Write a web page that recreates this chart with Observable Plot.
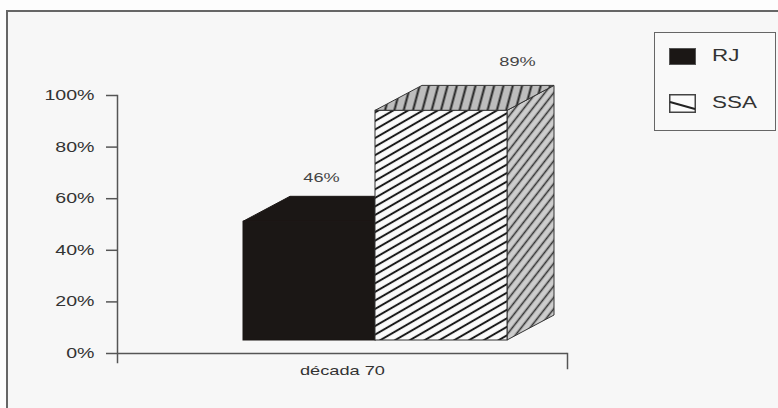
<!DOCTYPE html>
<html>
<head>
<meta charset="utf-8">
<script src="https://cdn.jsdelivr.net/npm/d3@7"></script>
<script src="https://cdn.jsdelivr.net/npm/@observablehq/plot@0.6"></script>
<style>
  html, body { margin: 0; padding: 0; background: #fdfdfd; overflow: hidden; }
  #wrap { position: relative; width: 778px; height: 408px; overflow: hidden; }
  #border { position: absolute; left: 6px; top: 10px; width: 800px; height: 420px;
            border: 2px solid #666; background: #f7f7f7; box-sizing: border-box; }
  #chart { position: absolute; left: 0; top: 0; }
  #legend { position: absolute; left: 654px; top: 32px; width: 122px; height: 99px;
            border: 1.5px solid #666; box-sizing: border-box; background: #f9f9f9;
            font-family: "Liberation Sans", Arial, sans-serif; font-size: 16px; color: #333; }
  .item { position: absolute; left: 14px; height: 20px; display: flex; align-items: center; }
  .item svg { display: block; }
  .item span { display: inline-block; margin-left: 16px; transform: scaleX(1.4); transform-origin: left center; }
</style>
</head>
<body>
<div id="wrap">
  <div id="border"></div>
  <div id="chart"></div>
  <div id="legend">
    <div class="item" style="top:13px"><svg width="27" height="17"><rect x="0.5" y="0.5" width="26" height="16" fill="#1b1715" stroke="#555"/></svg><span>RJ</span></div>
    <div class="item" style="top:60px"><svg width="27" height="19"><rect x="0.75" y="0.75" width="25.5" height="17.5" fill="#fbfbfb" stroke="#444" stroke-width="1.5"/><line x1="1" y1="8" x2="26" y2="15" stroke="#222" stroke-width="2"/></svg><span>SSA</span></div>
  </div>
</div>
<script>
// ---- data ----
const series = ["RJ", "SSA"];
const values = [46, 89];
const valueLabels = ["46%", "89%"];
const decade = ["década 70"];
const yTicks = [0, 20, 40, 60, 80, 100];

const data = series.map((s, i) => ({series: s, value: values[i], label: valueLabels[i]}));

// ---- 3D styling ----
const DX = 47, DY = -25, FRONT_DY = -13;
const faceStyle = {
  RJ:  {front: "#1b1715", top: "#1b1715", side: "#1b1715", stroke: "#1b1715"},
  SSA: {front: "url(#hFront)", top: "url(#hTop)", side: "url(#hSide)", stroke: "#333"}
};

function bars3d(index, scales, channels, dims, ctx) {
  const g = d3.create("svg:g");
  const bwRaw = scales.x.bandwidth;
  const bw = typeof bwRaw === "function" ? bwRaw() : bwRaw;
  for (const i of index) {
    const d = data[i];
    const st = faceStyle[d.series];
    const x0 = scales.x(d.series), x1 = x0 + bw;
    const yb = scales.y(0) + FRONT_DY, yt = scales.y(d.value) + FRONT_DY;
    // side face
    g.append("path")
      .attr("d", `M${x1},${yb}L${x1 + DX},${yb + DY}L${x1 + DX},${yt + DY}L${x1},${yt}Z`)
      .attr("fill", st.side).attr("stroke", st.stroke).attr("stroke-width", 1);
    // top face
    g.append("path")
      .attr("d", `M${x0},${yt}L${x1},${yt}L${x1 + DX},${yt + DY}L${x0 + DX},${yt + DY}Z`)
      .attr("fill", st.top).attr("stroke", st.stroke).attr("stroke-width", 1);
    // front face
    g.append("rect")
      .attr("x", x0).attr("y", yt).attr("width", bw).attr("height", yb - yt)
      .attr("fill", st.front).attr("stroke", st.stroke).attr("stroke-width", 1);
  }
  return g.node();
}

const plot = Plot.plot({
  width: 778,
  height: 408,
  marginLeft: 117,
  marginRight: 211,
  marginTop: 95,
  marginBottom: 55,
  style: {background: "transparent", fontFamily: "Liberation Sans, Arial, sans-serif", color: "#333"},
  x: {type: "band", domain: series, range: [243, 507], padding: 0, axis: null},
  y: {domain: [0, 100], range: [353, 95]},
  marks: [
    Plot.frame({anchor: "left", insetBottom: -9, stroke: "#555", strokeWidth: 1.5}),
    Plot.frame({anchor: "right", insetTop: 258, insetBottom: -15, stroke: "#555", strokeWidth: 1.5}),
    Plot.ruleY([0], {stroke: "#555", strokeWidth: 1.5}),
    Plot.axisY({ticks: yTicks, tickFormat: d => d + "%", tickSize: 11, tickPadding: 12,
                fontSize: 14, label: null, stroke: "#555", strokeWidth: 1.5, fill: "#333"}),
    Plot.barY(data, {x: "series", y: "value", render: bars3d}),
    Plot.text(data.filter(d => d.series === "RJ"), {x: "series", y: "value", text: "label",
                dx: 12, dy: FRONT_DY - 44, fontSize: 13, fill: "#444"}),
    Plot.text(data.filter(d => d.series === "SSA"), {x: "series", y: "value", text: "label",
                dx: 76, dy: FRONT_DY - 49, fontSize: 13, fill: "#444"}),
    Plot.text(decade, {frameAnchor: "bottom", dy: 17, lineAnchor: "middle", fontSize: 13, fill: "#333"})
  ]
});

// pattern definitions
const defs = d3.select(plot).insert("defs", ":first-child");
defs.html(`
  <pattern id="hFront" patternUnits="userSpaceOnUse" width="7.4" height="7.4" patternTransform="rotate(-30)">
    <rect width="7.4" height="7.4" fill="#fbfbfb"/>
    <line x1="0" y1="3.7" x2="7.4" y2="3.7" stroke="#1a1a1a" stroke-width="2"/>
  </pattern>
  <pattern id="hTop" patternUnits="userSpaceOnUse" width="9" height="9" patternTransform="rotate(15)">
    <rect width="9" height="9" fill="#bdbdbd"/>
    <line x1="4.5" y1="0" x2="4.5" y2="9" stroke="#222" stroke-width="2"/>
  </pattern>
  <pattern id="hSide" patternUnits="userSpaceOnUse" width="7" height="7" patternTransform="rotate(-52)">
    <rect width="7" height="7" fill="#cdcdcd"/>
    <line x1="0" y1="3.5" x2="7" y2="3.5" stroke="#333" stroke-width="1.6"/>
  </pattern>
`);

document.getElementById("chart").appendChild(plot);

// horizontally stretched lettering, as in the reference
plot.querySelectorAll("text").forEach(t => {
  const w = t.getComputedTextLength();
  if (w > 0) {
    t.setAttribute("textLength", (w * 1.4).toFixed(1));
    t.setAttribute("lengthAdjust", "spacingAndGlyphs");
  }
});
</script>
</body>
</html>
